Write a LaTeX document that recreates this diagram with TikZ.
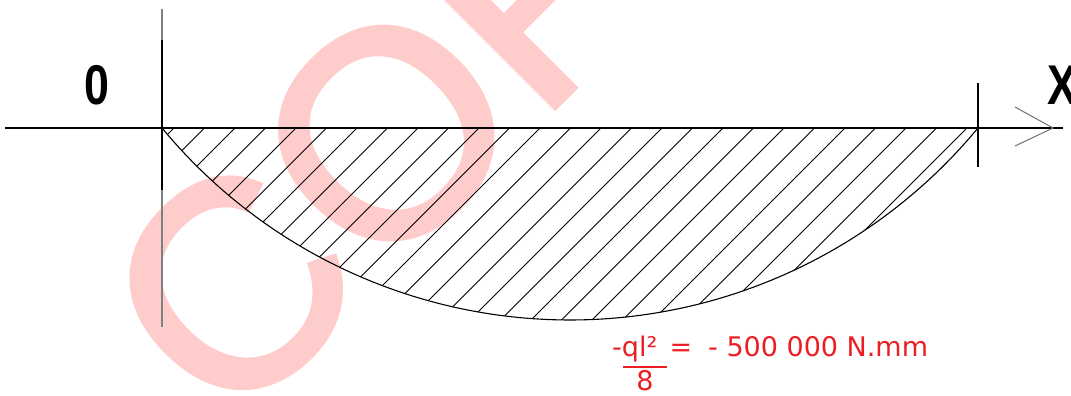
\documentclass[tikz,border=0pt]{standalone}
\usepackage{fontspec}
\setmainfont{Liberation Sans}
\newfontfamily\redfont{DejaVu Sans}
\newfontfamily\wmfont[FakeBold=2]{Liberation Sans}
\definecolor{redtxt}{RGB}{235,30,35}
\definecolor{wmpink}{RGB}{255,204,204}
\begin{document}
\begin{tikzpicture}[x=1pt,y=1pt,
  axisline/.style={line width=1.4pt,black},
  greyline/.style={line width=1.6pt,black!50},
  hatchline/.style={line width=0.9pt,black},
  curveline/.style={line width=1.1pt,black},
  arrowline/.style={line width=1pt,black!55},
  axlbl/.style={inner sep=0,font=\fontsize{56}{56}\selectfont\bfseries},
  redlbl/.style={inner sep=0,text=redtxt,font=\redfont\fontsize{27}{27}\selectfont},
  wmark/.style={inner sep=0,rotate=45,text=wmpink,font=\wmfont\fontsize{292}{292}\selectfont}
]
\useasboundingbox (0,0) rectangle (1071,396);
% watermark (behind the drawing)
\node[wmark] (wm) at (450,326) {COPY};
% key points
\coordinate (L) at (162,268);
\coordinate (R) at (978,268);
\coordinate (axstart) at (5,268);
\coordinate (axend) at (1063,268);
% hatching
\begin{scope}
  \clip (L) arc[start angle=219.6, end angle=320.4, radius=529.5] -- cycle;
  \foreach \k in {0,...,26} {\draw[hatchline] ({174+30.5*\k},268) -- ++(-270,-270);}
\end{scope}
% moment curve
\draw[curveline] (L) arc[start angle=219.6, end angle=320.4, radius=529.5];
% axes
\draw[axisline] (axstart) -- (axend);
\coordinate (vtop) at (162,387);
\coordinate (vbot) at (162,69);
\coordinate (vb1) at (162,356);
\coordinate (vb2) at (162,206);
\draw[greyline] (vtop) -- (vbot);
\draw[axisline] (vb1) -- (vb2);
\coordinate (rtop) at (978,313);
\coordinate (rbot) at (978,229);
\draw[axisline] (rtop) -- (rbot);
% arrow head
\coordinate (tip) at (1053,268);
\coordinate (au) at (1015,289);
\coordinate (ad) at (1015,250);
\draw[arrowline] (au) -- (tip) -- (ad);
% labels
\node[axlbl] (zero) at (97,311) {\scalebox{0.8}[1]{0}};
\node[axlbl] (xlab) at (1062,311) {\scalebox{0.8}[1]{X}};
% red value
\node[redlbl,anchor=base west] (num) at (612,39) {-ql²};
\node[redlbl,anchor=base] (eq) at (681,39) {=};
\node[redlbl,anchor=base west] (val) at (708,39) {- 500 000 N.mm};
\coordinate (bar1) at (623,29);
\coordinate (bar2) at (667,29);
\draw[redtxt,line width=1.2pt] (bar1) -- (bar2);
\node[redlbl,anchor=base] (den) at (645,5) {8};
\end{tikzpicture}
\end{document}
